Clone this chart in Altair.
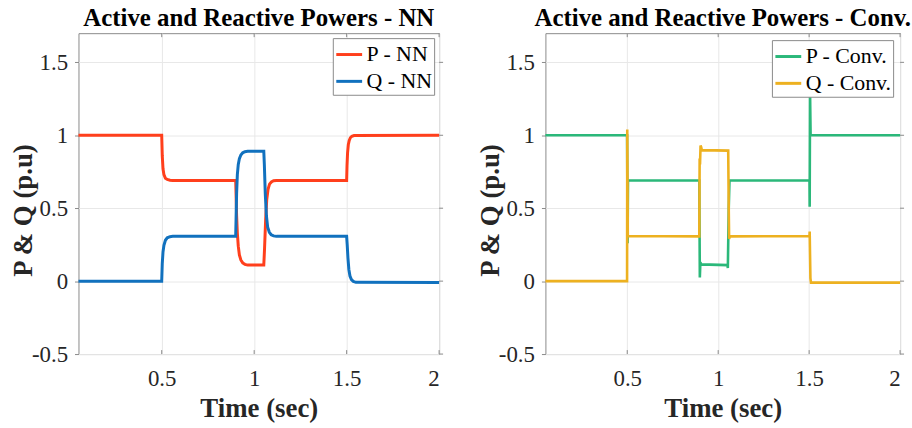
import altair as alt
import pandas as pd

# ---- Neural-network controller: active power P ----
nn_p_t = [0.05, 0.5, 0.503, 0.507, 0.512, 0.52, 0.53, 0.545, 0.56,
          0.9, 0.902, 0.905, 0.909, 0.914, 0.92, 0.928, 0.938, 0.95, 0.965,
          1.052, 1.056, 1.062, 1.068, 1.075, 1.083, 1.093, 1.105, 1.12,
          1.5, 1.502, 1.505, 1.509, 1.514, 1.52, 1.528, 1.54, 2.0]
nn_p_v = [1.0, 1.0, 0.86, 0.77, 0.73, 0.705, 0.697, 0.692, 0.69,
          0.69, 0.6, 0.45, 0.33, 0.24, 0.18, 0.145, 0.125, 0.115, 0.11,
          0.11, 0.22, 0.42, 0.56, 0.63, 0.665, 0.68, 0.688, 0.69,
          0.69, 0.79, 0.88, 0.935, 0.965, 0.983, 0.993, 0.998, 1.0]

# ---- Neural-network controller: reactive power Q ----
nn_q_t = [0.05, 0.5, 0.503, 0.507, 0.512, 0.52, 0.53, 0.545, 0.56,
          0.9, 0.902, 0.905, 0.909, 0.914, 0.92, 0.928, 0.938, 0.95, 0.965,
          1.052, 1.055, 1.06, 1.066, 1.073, 1.082, 1.092, 1.105, 1.12,
          1.5, 1.503, 1.507, 1.512, 1.518, 1.526, 1.536, 1.55, 2.0]
nn_q_v = [0.0, 0.0, 0.12, 0.2, 0.245, 0.28, 0.297, 0.305, 0.307,
          0.307, 0.42, 0.6, 0.73, 0.8, 0.84, 0.865, 0.88, 0.887, 0.89,
          0.89, 0.8, 0.6, 0.45, 0.37, 0.335, 0.318, 0.31, 0.307,
          0.307, 0.25, 0.16, 0.08, 0.035, 0.01, -0.002, -0.008, -0.01]

# ---- Conventional controller: active power P ----
cv_p_t = [0.05, 0.499, 0.502, 0.504,
          0.896, 0.899, 0.902, 0.906, 1.051, 1.053, 1.058, 1.062,
          1.502, 1.503, 1.505, 1.508, 2.0]
cv_p_v = [1.0, 1.0, 0.26, 0.69,
          0.69, 0.025, 0.13, 0.115, 0.11, 0.09, 0.5, 0.69,
          0.69, 0.51, 1.3, 1.0, 1.0]

# ---- Conventional controller: reactive power Q ----
cv_q_t = [0.05, 0.499, 0.5, 0.503,
          0.896, 0.898, 0.9, 0.903, 0.906, 0.91, 1.055, 1.058, 1.06, 1.064,
          1.502, 1.503, 1.507, 1.51, 2.0]
cv_q_v = [0.0, 0.0, 1.04, 0.31,
          0.307, 0.84, 0.80, 0.93, 0.92, 0.898, 0.895, 0.5, 0.29, 0.307,
          0.31, 0.34, 0.02, -0.01, -0.01]

x_ticks = [0.5, 1, 1.5, 2]
y_ticks = [-0.5, 0, 0.5, 1, 1.5]

SERIF = "Liberation Serif"
FRAME = "#8a8a8a"
TEXT = "#262626"
H = 323
TICK = 4


def series_frame(t, v, name):
    return pd.DataFrame({"t": t, "v": v, "series": name})


def panel(frames, names, colors, title, width, stroke_w, legend_offset):
    df = pd.concat(frames, ignore_index=True)
    df["order"] = range(len(df))

    x = alt.X("t:Q",
              scale=alt.Scale(domain=[0.05, 2], nice=False, zero=False),
              axis=alt.Axis(values=x_ticks, title="Time (sec)",
                            labelExpr="datum.value + ''",
                            labelFont=SERIF, labelFontSize=23, labelColor=TEXT,
                            titleFont=SERIF, titleFontSize=27, titleFontWeight="bold",
                            titleColor=TEXT,
                            titleX=width / 2, titleY=63,
                            titleBaseline="alphabetic", labelPadding=14,
                            ticks=False))
    y = alt.Y("v:Q",
              scale=alt.Scale(domain=[-0.5, 1.7], nice=False, zero=False),
              axis=alt.Axis(values=y_ticks, title="P & Q (p.u)",
                            labelExpr="datum.value + ''",
                            labelFont=SERIF, labelFontSize=23, labelColor=TEXT,
                            titleFont=SERIF, titleFontSize=27, titleFontWeight="bold",
                            titleColor=TEXT,
                            titleAngle=270, titleX=-47, titleY=178,
                            titleAlign="center", titleBaseline="alphabetic",
                            ticks=True, tickSize=TICK, tickColor=FRAME,
                            labelPadding=7))

    lines = alt.Chart(df).mark_line(strokeWidth=stroke_w).encode(
        x=x, y=y, order="order:Q",
        color=alt.Color("series:N",
                        scale=alt.Scale(domain=names, range=colors),
                        legend=alt.Legend(orient="top-right", offset=legend_offset,
                                          title=None, symbolType="stroke",
                                          symbolSize=676, symbolStrokeWidth=3,
                                          labelFont=SERIF, labelFontSize=22,
                                          labelColor="black", labelOffset=3,
                                          strokeColor=FRAME, fillColor="white",
                                          padding=2, rowPadding=1)),
    )

    xt = pd.DataFrame({"t": x_ticks})
    yt = pd.DataFrame({"v": y_ticks})
    tick_style = dict(color=FRAME, strokeWidth=1)
    # x ticks point into the plot, at bottom and top edges
    xb = alt.Chart(xt).mark_rule(**tick_style).encode(
        x=x, y=alt.value(H), y2=alt.value(H - TICK))
    xtop = alt.Chart(xt).mark_rule(**tick_style).encode(
        x=x, y=alt.value(0), y2=alt.value(TICK))
    # mirrored y ticks on the right edge, pointing outward
    yr = alt.Chart(yt).mark_rule(**tick_style).encode(
        y=y, x=alt.value(width), x2=alt.value(width + TICK))

    return alt.layer(xb, xtop, yr, lines).properties(
        width=width, height=H,
        title=alt.TitleParams(title, font=SERIF, fontSize=25, fontWeight="bold",
                              color="black", anchor="middle", offset=-18,
                              baseline="alphabetic"),
    )


left = panel(
    [series_frame(nn_p_t, nn_p_v, "P - NN"), series_frame(nn_q_t, nn_q_v, "Q - NN")],
    ["P - NN", "Q - NN"], ["#FF3F1C", "#1171BE"],
    "Active and Reactive Powers - NN", 363, 3, 5)

right = panel(
    [series_frame(cv_p_t, cv_p_v, "P - Conv."), series_frame(cv_q_t, cv_q_v, "Q - Conv.")],
    ["P - Conv.", "Q - Conv."], ["#2BB87A", "#EDB120"],
    "Active and Reactive Powers - Conv.", 357, 2.6, 7)

chart = alt.hconcat(left, right, spacing=30).resolve_scale(color="independent").properties(
    padding={"left": 9, "top": 4, "right": 0, "bottom": 0},
    background="white",
).configure_view(stroke=FRAME, strokeWidth=1).configure_axis(
    domain=False, grid=True, gridColor="#E8E8E8", gridWidth=1,
)

chart.save("out.html", embed_options={"renderer": "svg", "actions": False})
